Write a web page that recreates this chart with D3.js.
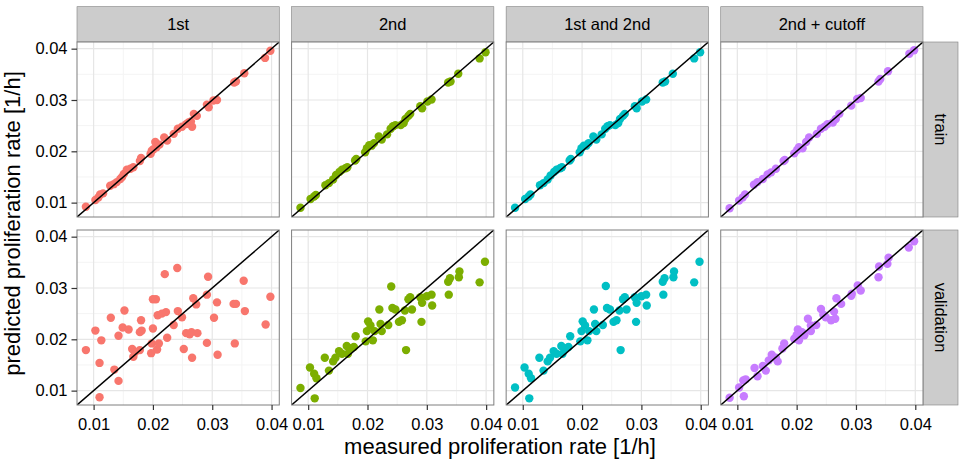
<!DOCTYPE html>
<html>
<head>
<meta charset="utf-8">
<title>Measured vs predicted proliferation rate</title>
<style>
  body { margin: 0; background: #fff; }
  svg { display: block; font-family: "Liberation Sans", Arial, Helvetica, sans-serif; }
  .tick text { fill: #000; font-size: 16.5px; }
  .tick line { stroke: #333; }
  .domain { display: none; }
</style>
<script src="https://cdnjs.cloudflare.com/ajax/libs/d3/7.8.5/d3.min.js"></script>
</head>
<body>
<div id="chart"></div>
<script>
// facets
const models = ["1st", "2nd", "1st and 2nd", "2nd + cutoff"];
const sets = ["train", "validation"];
const modelColors = ["#F8766D", "#7CAE00", "#00BFC4", "#C77CFF"];
const majorTicks = [0.01, 0.02, 0.03, 0.04];
const minorTicks = [0.015, 0.025, 0.035];
const tickLabels = ["0.01", "0.02", "0.03", "0.04"];

// [measured, predicted]
const train1st = [[0.0087,0.0092],[0.0103,0.0105],[0.0108,0.0110],[0.0111,0.0116],[0.0116,0.0118],
  [0.0128,0.0133],[0.0134,0.0136],[0.0139,0.0140],[0.0145,0.0146],[0.0148,0.0150],[0.0151,0.0156],
  [0.0156,0.0164],[0.0162,0.0166],[0.0167,0.0169],[0.0178,0.0181],[0.0180,0.0187],[0.0196,0.0195],
  [0.0198,0.0201],[0.0201,0.0204],[0.0204,0.0218],[0.0206,0.0208],[0.0211,0.0213],[0.0219,0.0227],
  [0.0224,0.0221],[0.0235,0.0234],[0.0242,0.0244],[0.0249,0.0248],[0.0256,0.0253],[0.0260,0.0256],
  [0.0264,0.0258],[0.0266,0.0248],[0.0269,0.0273],[0.0274,0.0269],[0.0291,0.0291],[0.0294,0.0286],
  [0.0302,0.0299],[0.0308,0.0300],[0.0337,0.0334],[0.0340,0.0336],[0.0354,0.0352],[0.0389,0.0382],
  [0.0398,0.0396]];
const train2nd = [[0.0087,0.0090],[0.0104,0.0107],[0.0110,0.0112],[0.0113,0.0115],[0.0129,0.0134],
  [0.0135,0.0138],[0.0142,0.0145],[0.0147,0.0154],[0.0153,0.0160],[0.0157,0.0164],[0.0163,0.0167],
  [0.0166,0.0169],[0.0179,0.0182],[0.0181,0.0185],[0.0196,0.0198],[0.0199,0.0206],[0.0203,0.0212],
  [0.0207,0.0211],[0.0211,0.0216],[0.0219,0.0229],[0.0224,0.0223],[0.0233,0.0233],[0.0239,0.0244],
  [0.0243,0.0249],[0.0247,0.0251],[0.0256,0.0251],[0.0261,0.0255],[0.0264,0.0263],[0.0269,0.0269],
  [0.0272,0.0273],[0.0289,0.0288],[0.0292,0.0284],[0.0301,0.0297],[0.0308,0.0301],[0.0336,0.0334],
  [0.0340,0.0336],[0.0353,0.0351],[0.0389,0.0381],[0.0399,0.0393]];
const trainBoth = [[0.0087,0.0090],[0.0104,0.0107],[0.0110,0.0112],[0.0113,0.0116],[0.0129,0.0134],
  [0.0135,0.0138],[0.0142,0.0145],[0.0147,0.0153],[0.0153,0.0160],[0.0157,0.0164],[0.0163,0.0167],
  [0.0166,0.0169],[0.0179,0.0182],[0.0181,0.0185],[0.0196,0.0198],[0.0199,0.0206],[0.0203,0.0211],
  [0.0207,0.0211],[0.0211,0.0216],[0.0219,0.0229],[0.0224,0.0223],[0.0233,0.0233],[0.0239,0.0244],
  [0.0243,0.0249],[0.0247,0.0251],[0.0256,0.0251],[0.0261,0.0255],[0.0264,0.0263],[0.0269,0.0269],
  [0.0272,0.0273],[0.0289,0.0288],[0.0292,0.0284],[0.0301,0.0297],[0.0308,0.0301],[0.0336,0.0334],
  [0.0340,0.0336],[0.0353,0.0351],[0.0389,0.0381],[0.0399,0.0393]];
const trainCutoff = [[0.0087,0.0089],[0.0103,0.0104],[0.0109,0.0110],[0.0113,0.0116],[0.0128,0.0135],
  [0.0134,0.0140],[0.0143,0.0146],[0.0151,0.0155],[0.0157,0.0159],[0.0165,0.0166],[0.0178,0.0181],
  [0.0180,0.0183],[0.0196,0.0196],[0.0201,0.0203],[0.0204,0.0208],[0.0210,0.0206],[0.0216,0.0218],
  [0.0221,0.0227],[0.0234,0.0234],[0.0241,0.0244],[0.0247,0.0248],[0.0252,0.0253],[0.0261,0.0256],
  [0.0266,0.0263],[0.0272,0.0273],[0.0292,0.0289],[0.0302,0.0302],[0.0308,0.0304],[0.0338,0.0336],
  [0.0341,0.0341],[0.0354,0.0356],[0.0390,0.0390],[0.0398,0.0397]];
const val1st = [[0.0087,0.0179],[0.0110,0.0087],[0.0110,0.0154],[0.0103,0.0217],[0.0113,0.0198],
  [0.0129,0.0242],[0.0135,0.0141],[0.0142,0.0119],[0.0142,0.0207],[0.0152,0.0256],[0.0149,0.0223],
  [0.0159,0.0219],[0.0165,0.0181],[0.0167,0.0166],[0.0170,0.0175],[0.0178,0.0179],[0.0180,0.0237],
  [0.0181,0.0217],[0.0178,0.0214],[0.0200,0.0278],[0.0205,0.0278],[0.0200,0.0221],[0.0197,0.0173],
  [0.0198,0.0192],[0.0207,0.0180],[0.0210,0.0192],[0.0208,0.0247],[0.0215,0.0250],[0.0222,0.0253],
  [0.0220,0.0327],[0.0224,0.0203],[0.0241,0.0339],[0.0235,0.0228],[0.0242,0.0255],[0.0249,0.0243],
  [0.0252,0.0181],[0.0256,0.0212],[0.0262,0.0210],[0.0265,0.0214],[0.0266,0.0164],[0.0268,0.0280],
  [0.0273,0.0268],[0.0275,0.0212],[0.0291,0.0287],[0.0293,0.0322],[0.0291,0.0193],[0.0303,0.0242],
  [0.0308,0.0272],[0.0309,0.0170],[0.0336,0.0269],[0.0340,0.0269],[0.0338,0.0192],[0.0353,0.0314],
  [0.0355,0.0255],[0.0390,0.0229],[0.0398,0.0283]];
const val2nd = [[0.0087,0.0105],[0.0111,0.0085],[0.0103,0.0145],[0.0110,0.0133],[0.0114,0.0124],
  [0.0128,0.0164],[0.0135,0.0139],[0.0142,0.0157],[0.0146,0.0164],[0.0152,0.0177],[0.0157,0.0172],
  [0.0165,0.0187],[0.0167,0.0172],[0.0171,0.0182],[0.0177,0.0185],[0.0180,0.0206],[0.0197,0.0196],
  [0.0201,0.0235],[0.0199,0.0216],[0.0205,0.0227],[0.0209,0.0198],[0.0212,0.0216],[0.0220,0.0258],
  [0.0224,0.0216],[0.0222,0.0230],[0.0235,0.0228],[0.0240,0.0303],[0.0242,0.0261],[0.0247,0.0258],
  [0.0253,0.0234],[0.0258,0.0237],[0.0263,0.0256],[0.0265,0.0179],[0.0269,0.0278],[0.0272,0.0282],
  [0.0275,0.0258],[0.0289,0.0282],[0.0292,0.0271],[0.0291,0.0234],[0.0300,0.0284],[0.0308,0.0287],
  [0.0309,0.0266],[0.0336,0.0312],[0.0339,0.0319],[0.0337,0.0287],[0.0354,0.0321],[0.0355,0.0332],
  [0.0389,0.0311],[0.0398,0.0351]];
const valBoth = [[0.0087,0.0106],[0.0111,0.0085],[0.0103,0.0145],[0.0110,0.0133],[0.0114,0.0124],
  [0.0128,0.0164],[0.0135,0.0139],[0.0142,0.0157],[0.0146,0.0164],[0.0152,0.0177],[0.0157,0.0172],
  [0.0165,0.0187],[0.0167,0.0172],[0.0171,0.0182],[0.0177,0.0185],[0.0180,0.0206],[0.0197,0.0196],
  [0.0201,0.0235],[0.0199,0.0216],[0.0205,0.0227],[0.0209,0.0198],[0.0212,0.0216],[0.0220,0.0258],
  [0.0224,0.0216],[0.0222,0.0230],[0.0235,0.0228],[0.0240,0.0304],[0.0242,0.0261],[0.0247,0.0258],
  [0.0253,0.0234],[0.0258,0.0237],[0.0263,0.0256],[0.0265,0.0179],[0.0269,0.0278],[0.0272,0.0282],
  [0.0275,0.0258],[0.0289,0.0282],[0.0292,0.0271],[0.0291,0.0234],[0.0300,0.0284],[0.0308,0.0287],
  [0.0309,0.0266],[0.0336,0.0312],[0.0339,0.0319],[0.0337,0.0287],[0.0354,0.0321],[0.0355,0.0332],
  [0.0389,0.0311],[0.0398,0.0351]];
const valCutoff = [[0.0087,0.0086],[0.0111,0.0089],[0.0103,0.0106],[0.0110,0.0120],[0.0114,0.0122],
  [0.0129,0.0144],[0.0134,0.0128],[0.0143,0.0148],[0.0148,0.0139],[0.0153,0.0159],[0.0158,0.0170],
  [0.0165,0.0164],[0.0168,0.0157],[0.0176,0.0182],[0.0179,0.0192],[0.0196,0.0201],[0.0202,0.0219],
  [0.0200,0.0208],[0.0204,0.0198],[0.0209,0.0214],[0.0213,0.0208],[0.0219,0.0240],[0.0224,0.0216],
  [0.0224,0.0227],[0.0233,0.0228],[0.0241,0.0259],[0.0245,0.0248],[0.0249,0.0243],[0.0258,0.0237],
  [0.0263,0.0254],[0.0265,0.0240],[0.0267,0.0280],[0.0275,0.0269],[0.0292,0.0285],[0.0293,0.0289],
  [0.0303,0.0305],[0.0308,0.0295],[0.0338,0.0321],[0.0339,0.0342],[0.0355,0.0359],[0.0353,0.0347],
  [0.0389,0.0379],[0.0398,0.0391]];

const panelData = [
  [train1st, train2nd, trainBoth, trainCutoff],
  [val1st, val2nd, valBoth, valCutoff]
];

const W = 964, H = 465;
const plotLeft = 77, plotRight = 923, stripTop = 6.7, plotTop = 42;
const gap = 12.3, rowGap = 13;
const pw = (plotRight - plotLeft - 3 * gap) / 4;
const ph = 175;
const limits = [0.0072, 0.0413];

const svg = d3.select("#chart").append("svg")
  .attr("width", W).attr("height", H);

const x = d3.scaleLinear().domain(limits).range([0, pw]);
const y = d3.scaleLinear().domain(limits).range([ph, 0]);

const px = i => plotLeft + i * (pw + gap);
const py = j => plotTop + j * (ph + rowGap);

// column strips
models.forEach((m, i) => {
  const g = svg.append("g").attr("transform", `translate(${px(i)},${stripTop})`);
  g.append("rect").attr("width", pw).attr("height", plotTop - stripTop)
    .attr("fill", "#cccccc").attr("stroke", "#7f7f7f").attr("stroke-width", 0.6);
  g.append("text").attr("x", pw / 2).attr("y", (plotTop - stripTop) / 2)
    .attr("text-anchor", "middle").attr("dominant-baseline", "central")
    .style("font-size", "16.5px").text(m);
});

// row strips
sets.forEach((s, j) => {
  const g = svg.append("g").attr("transform", `translate(${plotRight},${py(j)})`);
  g.append("rect").attr("width", 35).attr("height", ph)
    .attr("fill", "#cccccc").attr("stroke", "#7f7f7f").attr("stroke-width", 0.6);
  g.append("text").attr("transform", `translate(17.5,${ph / 2}) rotate(90)`)
    .attr("text-anchor", "middle").attr("dominant-baseline", "central")
    .style("font-size", "16.5px").text(s);
});

svg.append("defs").append("clipPath").attr("id", "clip")
  .append("rect").attr("width", pw).attr("height", ph);

sets.forEach((s, j) => {
  models.forEach((m, i) => {
    const g = svg.append("g").attr("transform", `translate(${px(i)},${py(j)})`);
    g.append("rect").attr("width", pw).attr("height", ph).attr("fill", "#fff");

    // grid
    g.selectAll(".minx").data(minorTicks).enter().append("line")
      .attr("x1", d => x(d)).attr("x2", d => x(d)).attr("y1", 0).attr("y2", ph)
      .attr("stroke", "#f4f4f4").attr("stroke-width", 1);
    g.selectAll(".miny").data(minorTicks).enter().append("line")
      .attr("y1", d => y(d)).attr("y2", d => y(d)).attr("x1", 0).attr("x2", pw)
      .attr("stroke", "#f4f4f4").attr("stroke-width", 1);
    g.selectAll(".majx").data(majorTicks).enter().append("line")
      .attr("x1", d => x(d)).attr("x2", d => x(d)).attr("y1", 0).attr("y2", ph)
      .attr("stroke", "#e6e6e6").attr("stroke-width", 1.2);
    g.selectAll(".majy").data(majorTicks).enter().append("line")
      .attr("y1", d => y(d)).attr("y2", d => y(d)).attr("x1", 0).attr("x2", pw)
      .attr("stroke", "#e6e6e6").attr("stroke-width", 1.2);

    const inner = g.append("g").attr("clip-path", "url(#clip)");
    inner.selectAll("circle").data(panelData[j][i]).enter().append("circle")
      .attr("cx", d => x(d[0])).attr("cy", d => y(d[1])).attr("r", 4.2)
      .attr("fill", modelColors[i]);

    // y = x reference line
    inner.append("line")
      .attr("x1", x(limits[0])).attr("y1", y(limits[0]))
      .attr("x2", x(limits[1])).attr("y2", y(limits[1]))
      .attr("stroke", "#000").attr("stroke-width", 1.5);

    g.append("rect").attr("width", pw).attr("height", ph)
      .attr("fill", "none").attr("stroke", "#7f7f7f").attr("stroke-width", 1);

    if (j === sets.length - 1) {
      g.append("g").attr("transform", `translate(0,${ph})`)
        .call(d3.axisBottom(x).tickValues(majorTicks)
          .tickFormat((d, k) => tickLabels[k]).tickSize(5).tickPadding(8));
    }
    if (i === 0) {
      g.append("g")
        .call(d3.axisLeft(y).tickValues(majorTicks)
          .tickFormat((d, k) => tickLabels[k]).tickSize(5.5).tickPadding(4));
    }
  });
});

svg.selectAll(".tick line").attr("stroke", "#333").attr("stroke-width", 1.2);

// axis titles
svg.append("text").attr("x", (plotLeft + plotRight) / 2).attr("y", 454)
  .attr("text-anchor", "middle").style("font-size", "22px")
  .text("measured proliferation rate [1/h]");
svg.append("text")
  .attr("transform", `translate(20,${(plotTop + py(1) + ph) / 2}) rotate(-90)`)
  .attr("text-anchor", "middle").style("font-size", "22px")
  .text("predicted proliferation rate [1/h]");
</script>
</body>
</html>
